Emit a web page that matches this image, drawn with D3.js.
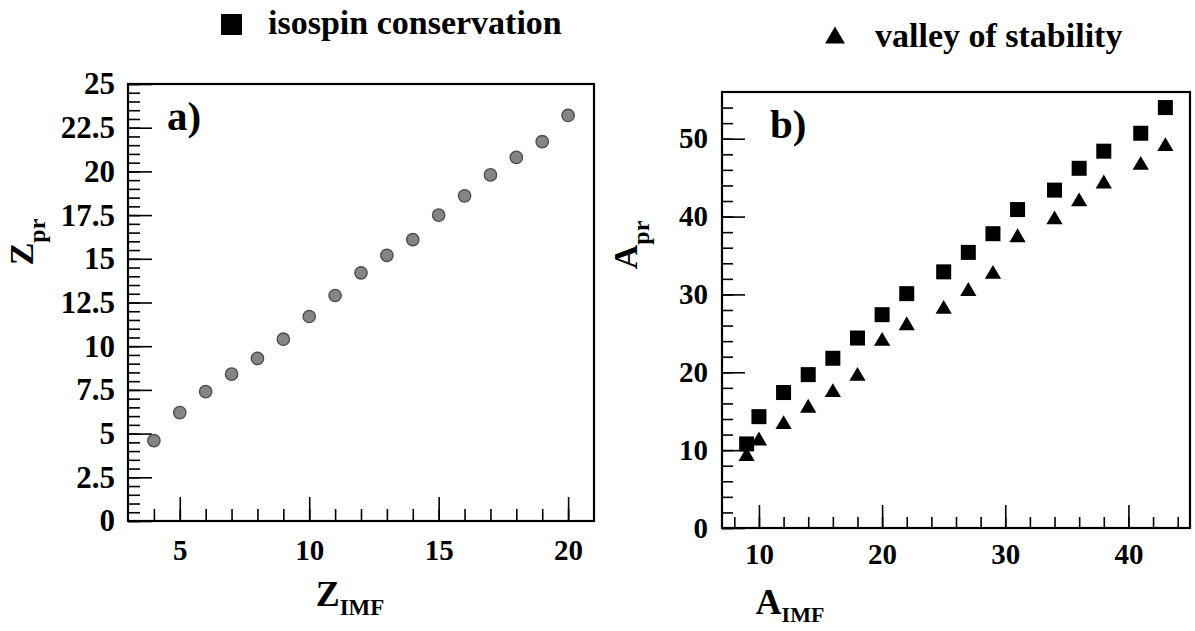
<!DOCTYPE html>
<html>
<head>
<meta charset="utf-8">
<script src="https://cdn.jsdelivr.net/npm/d3@7"></script>
<style>
  html, body { margin: 0; padding: 0; background: #fff; }
  svg { display: block; }
  text { font-family: "Liberation Serif", "Times New Roman", serif; font-weight: bold; fill: #000; }
</style>
</head>
<body>
<svg id="chart" width="1195" height="631"></svg>
<script>
// ---- data: panel a) Z_pr vs Z_IMF
const zImf = [4, 5, 6, 7, 8, 9, 10, 11, 12, 13, 14, 15, 16, 17, 18, 19, 20];
const zPr  = [4.6, 6.2, 7.4, 8.4, 9.3, 10.4, 11.7, 12.9, 14.2, 15.2, 16.1, 17.5, 18.6, 19.8, 20.8, 21.7, 23.2];

// ---- data: panel b) A_pr vs A_IMF, two hypotheses
const aImf        = [9, 10, 12, 14, 16, 18, 20, 22, 25, 27, 29, 31, 34, 36, 38, 41, 43];
const aPrIsospin  = [10.8, 14.3, 17.4, 19.7, 21.8, 24.4, 27.4, 30.1, 32.9, 35.4, 37.8, 40.9, 43.4, 46.2, 48.4, 50.7, 54.0];
const aPrValley   = [9.5, 11.5, 13.6, 15.7, 17.7, 19.8, 24.3, 26.3, 28.4, 30.7, 32.9, 37.6, 39.9, 42.2, 44.5, 46.9, 49.3];

// ---- tick values and labels
const aYMajor = [0, 2.5, 5, 7.5, 10, 12.5, 15, 17.5, 20, 22.5, 25];
const aYLabels = ["0", "2.5", "5", "7.5", "10", "12.5", "15", "17.5", "20", "22.5", "25"];
const aXMajor = [5, 10, 15, 20];
const bYMajor = [0, 10, 20, 30, 40, 50];
const bXMajor = [10, 20, 30, 40];

const legendLabels = ["isospin conservation", "valley of stability"];

const svg = d3.select("#chart");

// triangle centred on its bounding box
const triUp = {
  draw(ctx, size) {
    const w = Math.sqrt(size) * 1.15, h = w * 0.85;
    ctx.moveTo(0, -h / 2);
    ctx.lineTo(w / 2, h / 2);
    ctx.lineTo(-w / 2, h / 2);
    ctx.closePath();
  }
};

function drawAxes(g, x, y, opt) {
  // minor ticks
  g.append("g").attr("transform", `translate(0,${opt.y1})`)
    .call(d3.axisBottom(x).tickValues(opt.xMinor).tickSize(-opt.minorLen).tickFormat(""))
    .call(s => s.select(".domain").remove());
  g.append("g").attr("transform", `translate(${opt.x0},0)`)
    .call(d3.axisLeft(y).tickValues(opt.yMinor).tickSize(-opt.minorLen).tickFormat(""))
    .call(s => s.select(".domain").remove());
  // major ticks + labels
  g.append("g").attr("transform", `translate(0,${opt.y1})`)
    .call(d3.axisBottom(x).tickValues(opt.xMajor).tickSize(-opt.majorLen).tickPadding(opt.xPad)
      .tickFormat(d3.format("~g")))
    .call(s => s.select(".domain").remove())
    .call(s => s.selectAll("text").style("font-size", opt.xFont + "px"));
  g.append("g").attr("transform", `translate(${opt.x0},0)`)
    .call(d3.axisLeft(y).tickValues(opt.yMajor).tickSize(-opt.majorLen).tickPadding(opt.yPad)
      .tickFormat((d, i) => opt.yLabels ? opt.yLabels[i] : d3.format("~g")(d)))
    .call(s => s.select(".domain").remove())
    .call(s => s.selectAll("text").style("font-size", opt.yFont + "px"));
  g.selectAll(".tick line").attr("stroke", "#000").attr("stroke-width", 1.6);
  // frame
  g.append("rect")
    .attr("x", opt.x0).attr("y", opt.y0)
    .attr("width", opt.x1 - opt.x0).attr("height", opt.y1 - opt.y0)
    .attr("fill", "none").attr("stroke", "#000").attr("stroke-width", 2.2);
}

// ================= panel a =================
const A = { x0: 128, x1: 594, y0: 84, y1: 521 };
const xa = d3.scaleLinear().domain([3, 21]).range([A.x0, A.x1]);
const ya = d3.scaleLinear().domain([0, 25]).range([A.y1, A.y0]);
const ga = svg.append("g");
drawAxes(ga, xa, ya, {
  ...A,
  xMinor: d3.range(4, 21, 1), yMinor: d3.range(0, 25.01, 0.5),
  xMajor: aXMajor, yMajor: aYMajor, yLabels: aYLabels,
  minorLen: 12, majorLen: 24, xPad: 18, yPad: 13, xFont: 29, yFont: 31
});

ga.append("g").selectAll("circle")
  .data(zImf.map((d, i) => [d, zPr[i]]))
  .join("circle")
  .attr("cx", d => xa(d[0])).attr("cy", d => ya(d[1]))
  .attr("r", 6.2)
  .attr("fill", "#858585").attr("stroke", "#4a4a4a").attr("stroke-width", 1.3);

ga.append("text").attr("x", 167).attr("y", 130).style("font-size", "41px").text("a)");

// axis titles a
const zt = ga.append("text").attr("x", 350).attr("y", 606).attr("text-anchor", "middle").style("font-size", "36px");
zt.append("tspan").text("Z");
zt.append("tspan").attr("dy", 9).style("font-size", "23px").text("IMF");

const zy = ga.append("text").attr("transform", "translate(33,242) rotate(-90)")
  .attr("text-anchor", "middle").style("font-size", "34px");
zy.append("tspan").text("Z");
zy.append("tspan").attr("dy", 12).style("font-size", "24px").text("pr");

// ================= panel b =================
const B = { x0: 722, x1: 1190, y0: 92, y1: 528 };
const xb = d3.scaleLinear().domain([7, 45]).range([B.x0, B.x1]);
const yb = d3.scaleLinear().domain([0, 56]).range([B.y1, B.y0]);
const gb = svg.append("g");
drawAxes(gb, xb, yb, {
  ...B,
  xMinor: d3.range(8, 45, 2), yMinor: d3.range(0, 55, 2),
  xMajor: bXMajor, yMajor: bYMajor, yLabels: null,
  minorLen: 11, majorLen: 23, xPad: 15, yPad: 14, xFont: 29, yFont: 29
});

const sqSide = 15;
gb.append("g").selectAll("rect")
  .data(aImf.map((d, i) => [d, aPrIsospin[i]]))
  .join("rect")
  .attr("x", d => xb(d[0]) - sqSide / 2).attr("y", d => yb(d[1]) - sqSide / 2)
  .attr("width", sqSide).attr("height", sqSide).attr("fill", "#000");

const tri = d3.symbol().type(triUp).size(200);
gb.append("g").selectAll("path")
  .data(aImf.map((d, i) => [d, aPrValley[i]]))
  .join("path")
  .attr("transform", d => `translate(${xb(d[0])},${yb(d[1])})`)
  .attr("d", tri).attr("fill", "#000");

gb.append("text").attr("x", 770).attr("y", 138).style("font-size", "41px").text("b)");

const at = gb.append("text").attr("x", 790).attr("y", 614).attr("text-anchor", "middle").style("font-size", "36px");
at.append("tspan").text("A");
at.append("tspan").attr("dy", 8).style("font-size", "22px").text("IMF");

const ay = gb.append("text").attr("transform", "translate(637,245) rotate(-90)")
  .attr("text-anchor", "middle").style("font-size", "34px");
ay.append("tspan").text("A");
ay.append("tspan").attr("dy", 12).style("font-size", "24px").text("pr");

// ================= legend =================
const lg = svg.append("g");
lg.append("rect").attr("x", 221).attr("y", 14).attr("width", 21).attr("height", 21).attr("fill", "#000");
lg.append("text").attr("x", 268).attr("y", 34).style("font-size", "34px").text(legendLabels[0]);
lg.append("path").attr("transform", "translate(835,35)").attr("d", d3.symbol().type(triUp).size(300)).attr("fill", "#000");
lg.append("text").attr("x", 875).attr("y", 47).style("font-size", "34px").text(legendLabels[1]);
</script>
</body>
</html>
